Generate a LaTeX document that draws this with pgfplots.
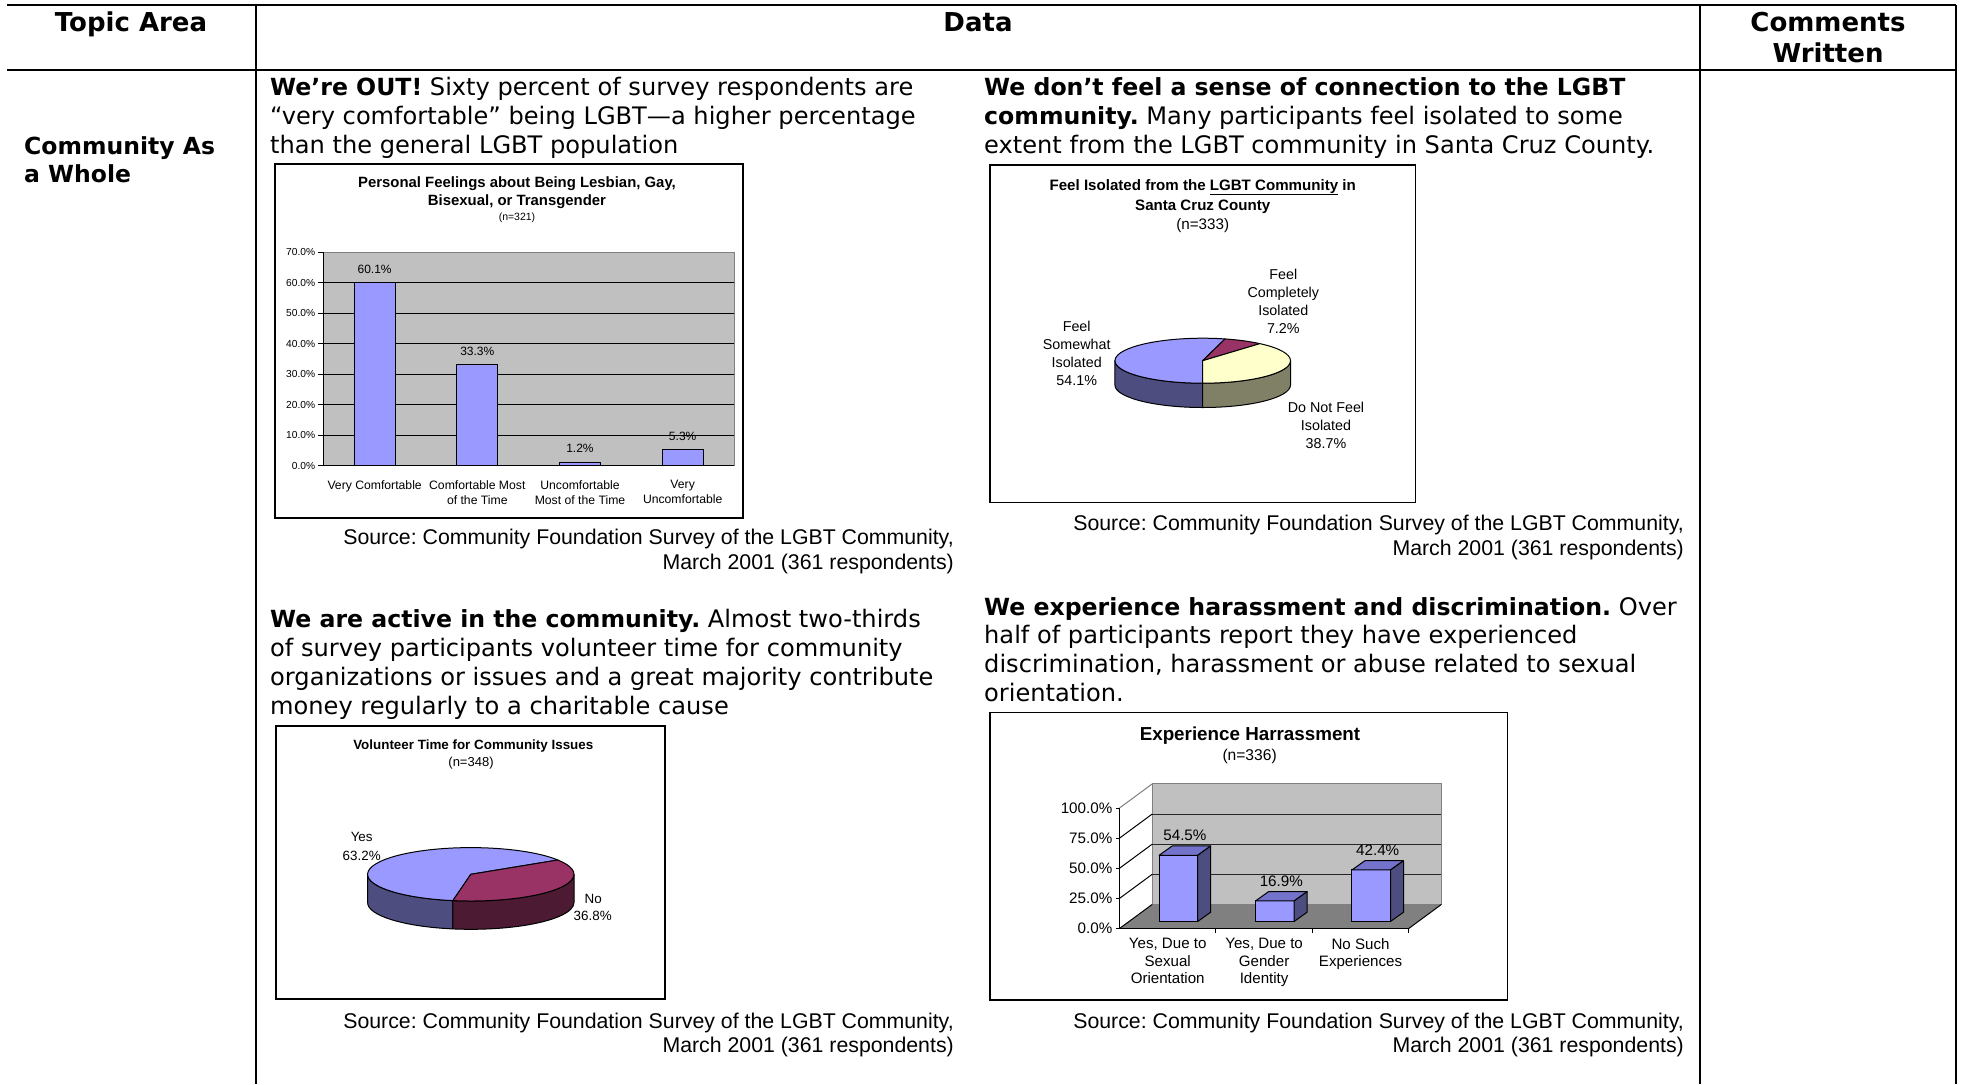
\documentclass[border=0pt]{standalone}
\usepackage{pgfplots}
\pgfplotsset{compat=1.18}
\usepackage{pgfplotstable}
\usepackage{fontspec}
\setmainfont{DejaVu Sans}
\newfontfamily\arial{Liberation Sans}
\pgfkeys{/pgf/number format/assume math mode=true}
\definecolor{barblue}{HTML}{9999FF}
\definecolor{darkblue}{HTML}{4D4D80}
\definecolor{topblue}{HTML}{7373CC}
\definecolor{maroon}{HTML}{993366}
\definecolor{darkmaroon}{HTML}{4D1A33}
\definecolor{lightyellow}{HTML}{FFFFCC}
\definecolor{darkolive}{HTML}{808066}
\definecolor{wallgray}{HTML}{C0C0C0}
\definecolor{floorgray}{HTML}{808080}
\newcommand\bodyfont{\fontsize{24.1}{28.7}\selectfont}
\newcommand\B[1]{{\fontsize{23.6}{28.7}\selectfont\bfseries #1}}
\newcommand\hfont{\bfseries\fontsize{23.5}{28.7}\selectfont}
\newcommand\headfont{\bfseries\fontsize{26}{29}\selectfont}
\newcommand\af[2]{\arial\fontsize{#1}{#2}\selectfont}
\newcommand\srcfont{\af{21.3}{25}}
\frenchspacing

\pgfplotstableread{
x v
0.5 60.1
1.5 33.3
2.5 1.2
3.5 5.3
}\feelingstable
\pgfplotstableread{
x v
0.5 54.5
1.5 16.9
2.5 42.4
}\harasstable

\pgfdeclareplotmark{bar3d}{%
  \pgfmathsetlengthmacro\barh{\barv*1.215pt}%
  \filldraw[fill=topblue, draw=black, line width=1pt, line join=round]
     (-19.3pt,0pt) -- (19.3pt,0pt) -- (32.3pt,9.3pt) -- (-6.3pt,9.3pt) -- cycle;
  \filldraw[fill=darkblue, draw=black, line width=1pt, line join=round]
     (19.3pt,0pt) -- (32.3pt,9.3pt) -- (32.3pt,{9.3pt-\barh}) -- (19.3pt,-\barh) -- cycle;
}

\begin{document}
\begin{tikzpicture}[x=1pt,y=1pt]
\useasboundingbox (0,0) rectangle (1961,-1084);
\clip (0,0) rectangle (1961,-1084);
\fill[white] (0,0) rectangle (1961,-1084);

\coordinate (AXbar) at (323.3,-465.7);
\coordinate (AXpieI) at (1202.7,-360.7);
\coordinate (AXpieV) at (470.8,-874.3);
\coordinate (AXhar) at (1119.5,-928.5);
\coordinate (AXharB) at (1130.2,-921.5);

% ---------- table ----------
\draw[line width=2.5pt] (7,-5) -- (1956,-5);
\draw[line width=2.5pt] (7,-70) -- (1956,-70);
\draw[line width=2.2pt] (256,-5) -- (256,-1084);
\draw[line width=2.2pt] (1700,-5) -- (1700,-1084);
\draw[line width=2.2pt] (1956,-5) -- (1956,-1084);

\node[anchor=base, inner sep=0] at (131,-31) {\headfont Topic Area};
\node[anchor=base, inner sep=0] at (978,-31) {\headfont Data};
\node[anchor=base, inner sep=0] at (1828,-31) {\headfont Comments};
\node[anchor=base, inner sep=0] at (1828,-62.5) {\headfont Written};
\node[anchor=base west, inner sep=0] at (24,-154) {\hfont Community As};
\node[anchor=base west, inner sep=0] at (24,-182) {\hfont a Whole};

% ---------- body text ----------
\node[anchor=base west, inner sep=0] at (270,-95.6) {\bodyfont\B{We’re OUT!} Sixty percent of survey respondents are};
\node[anchor=base west, inner sep=0] at (270,-124.3) {\bodyfont “very comfortable” being LGBT—a higher percentage};
\node[anchor=base west, inner sep=0] at (270,-153) {\bodyfont than the general LGBT population};

\node[anchor=base west, inner sep=0] at (984,-95.6) {\B{We don’t feel a sense of connection to the LGBT}};
\node[anchor=base west, inner sep=0] at (984,-124.3) {\bodyfont\B{community.} Many participants feel isolated to some};
\node[anchor=base west, inner sep=0] at (984,-153) {\bodyfont extent from the LGBT community in Santa Cruz County.};

\node[anchor=base west, inner sep=0] at (270,-627) {\bodyfont\B{We are active in the community.} Almost two-thirds};
\node[anchor=base west, inner sep=0] at (270,-656.2) {\bodyfont of survey participants volunteer time for community};
\node[anchor=base west, inner sep=0] at (270,-685.4) {\bodyfont organizations or issues and a great majority contribute};
\node[anchor=base west, inner sep=0] at (270,-714.6) {\bodyfont money regularly to a charitable cause};

\node[anchor=base west, inner sep=0] at (984,-615.2) {\bodyfont\B{We experience harassment and discrimination.} Over};
\node[anchor=base west, inner sep=0] at (984,-643.9) {\bodyfont half of participants report they have experienced};
\node[anchor=base west, inner sep=0] at (984,-672.6) {\bodyfont discrimination, harassment or abuse related to sexual};
\node[anchor=base west, inner sep=0] at (984,-701.3) {\bodyfont orientation.};

% ---------- sources ----------
\node[anchor=base east, inner sep=0] at (954,-544.3) {\srcfont Source: Community Foundation Survey of the LGBT Community,};
\node[anchor=base east, inner sep=0] at (954,-569.3) {\srcfont March 2001 (361 respondents)};
\node[anchor=base east, inner sep=0] at (1684,-530.3) {\srcfont Source: Community Foundation Survey of the LGBT Community,};
\node[anchor=base east, inner sep=0] at (1684,-555.3) {\srcfont March 2001 (361 respondents)};
\node[anchor=base east, inner sep=0] at (954,-1028) {\srcfont Source: Community Foundation Survey of the LGBT Community,};
\node[anchor=base east, inner sep=0] at (954,-1052.5) {\srcfont March 2001 (361 respondents)};
\node[anchor=base east, inner sep=0] at (1684,-1028) {\srcfont Source: Community Foundation Survey of the LGBT Community,};
\node[anchor=base east, inner sep=0] at (1684,-1052.5) {\srcfont March 2001 (361 respondents)};

% ---------- chart boxes ----------
\draw[line width=1.3pt] (275,-164) rectangle (743,-518);
\draw[line width=1.3pt] (990,-165) rectangle (1415.5,-502.5);
\draw[line width=1.3pt] (276,-726) rectangle (665,-999);
\draw[line width=1.3pt] (990,-712.5) rectangle (1507.5,-1000);

% ---------- chart 1: bar ----------
\node[anchor=base, inner sep=0] at (517,-187.3) {\af{14.9}{18}\bfseries Personal Feelings about Being Lesbian, Gay,};
\node[anchor=base, inner sep=0] at (517,-205) {\af{14.9}{18}\bfseries Bisexual, or Transgender};
\node[anchor=base, inner sep=0] at (517,-220) {\af{10.5}{12}(n=321)};

\begin{axis}[
  at={(AXbar)}, anchor=south west,
  scale only axis, width=410.7pt, height=213.4pt,
  xmin=0, xmax=4, ymin=0, ymax=70,
  axis background/.style={fill=wallgray},
  axis line style={draw=floorgray, line width=1pt},
  ytick={0,10,20,30,40,50,60,70},
  yticklabels={0.0\%,10.0\%,20.0\%,30.0\%,40.0\%,50.0\%,60.0\%,70.0\%},
  xtick={0.5,1.5,2.5,3.5},
  xticklabels={{Very Comfortable},{Comfortable Most\\of the Time},{Uncomfortable\\Most of the Time},{Very\\Uncomfortable}},
  ymajorgrids, grid style={black, line width=0.9pt},
  tick align=outside, major tick length=5pt, tick pos=left,
  ytick style={black, line width=0.9pt}, xtick style={draw=none},
  yticklabel style={font=\af{10.2}{12}, anchor=east, inner sep=0pt, xshift=-3pt},
  xticklabel style={font=\af{12.2}{15}, align=center, anchor=north, inner sep=0pt, yshift=-9.5pt},
  clip=false,
]
\addplot[ybar, bar width=41pt, fill=barblue, draw=black, line width=1pt,
  nodes near coords={\pgfmathprintnumber[fixed,fixed zerofill,precision=1]{\pgfplotspointmeta}\%},
  nodes near coords style={font=\af{12}{14}, anchor=south, inner sep=0pt, yshift=8.5pt, text=black}]
  table[x=x, y=v] {\feelingstable};
\draw[black, line width=1pt] (axis cs:0,0) -- (axis cs:4,0);
\draw[black, line width=1pt] (axis cs:0,0) -- (axis cs:0,70);
\end{axis}

% ---------- chart 2: isolated pie ----------
\def\isoSome{54.1}\def\isoComp{7.2}\def\isoNot{38.7}
\pgfmathsetmacro\isoA{270-3.6*\isoSome}
\pgfmathsetmacro\isoB{\isoA-3.6*\isoComp}
\pgfmathsetmacro\isoC{\isoB-3.6*\isoNot}
\def\ra{87.8}\def\rb{22.5}

\node[anchor=base, inner sep=0] at (1202.7,-190) {\af{15.1}{18}\bfseries Feel Isolated from the \underline{LGBT Community} in};
\node[anchor=base, inner sep=0] at (1202.7,-210) {\af{15.1}{18}\bfseries Santa Cruz County};
\node[anchor=base, inner sep=0] at (1202.7,-229.3) {\af{15.2}{18}(n=333)};

\begin{axis}[at={(AXpieI)}, anchor=center, scale only axis, width=240pt, height=120pt,
  xmin=-120, xmax=120, ymin=-60, ymax=60, hide axis, clip=false]
\filldraw[fill=darkblue, draw=black, line width=1pt, line join=round]
  (axis cs:-87.8,0) arc[start angle=180, end angle=270, x radius=87.8pt, y radius=22.5pt]
  -- (axis cs:0,-46.8) arc[start angle=270, end angle=180, x radius=87.8pt, y radius=22.5pt] -- cycle;
\filldraw[fill=darkolive, draw=black, line width=1pt, line join=round]
  (axis cs:0,-22.5) arc[start angle=270, end angle=360, x radius=87.8pt, y radius=22.5pt]
  -- (axis cs:87.8,-24.3) arc[start angle=360, end angle=270, x radius=87.8pt, y radius=22.5pt] -- cycle;
\filldraw[fill=barblue, draw=black, line width=1pt, line join=round]
  (axis cs:0,0) -- (axis cs:{\ra*cos(\isoA)},{\rb*sin(\isoA)}) arc[start angle=\isoA, end angle=270, x radius=87.8pt, y radius=22.5pt] -- cycle;
\filldraw[fill=maroon, draw=black, line width=1pt, line join=round]
  (axis cs:0,0) -- (axis cs:{\ra*cos(\isoB)},{\rb*sin(\isoB)}) arc[start angle=\isoB, end angle=\isoA, x radius=87.8pt, y radius=22.5pt] -- cycle;
\filldraw[fill=lightyellow, draw=black, line width=1pt, line join=round]
  (axis cs:0,0) -- (axis cs:{\ra*cos(\isoC)},{\rb*sin(\isoC)}) arc[start angle=\isoC, end angle=\isoB, x radius=87.8pt, y radius=22.5pt] -- cycle;
\end{axis}

\node[anchor=base, inner sep=0] at (1076.7,-331) {\af{14.3}{18}Feel};
\node[anchor=base, inner sep=0] at (1076.7,-349) {\af{14.3}{18}Somewhat};
\node[anchor=base, inner sep=0] at (1076.7,-367) {\af{14.3}{18}Isolated};
\node[anchor=base, inner sep=0] at (1076.7,-385) {\af{14.3}{18}54.1\%};
\node[anchor=base, inner sep=0] at (1283.3,-279) {\af{14.3}{18}Feel};
\node[anchor=base, inner sep=0] at (1283.3,-297) {\af{14.3}{18}Completely};
\node[anchor=base, inner sep=0] at (1283.3,-315) {\af{14.3}{18}Isolated};
\node[anchor=base, inner sep=0] at (1283.3,-333) {\af{14.3}{18}7.2\%};
\node[anchor=base, inner sep=0] at (1326,-412) {\af{14.3}{18}Do Not Feel};
\node[anchor=base, inner sep=0] at (1326,-430) {\af{14.3}{18}Isolated};
\node[anchor=base, inner sep=0] at (1326,-448) {\af{14.3}{18}38.7\%};

% ---------- chart 3: volunteer pie ----------
\def\volYes{63.2}\def\volNo{36.8}
\pgfmathsetmacro\volA{260-3.6*\volYes}
\pgfmathsetmacro\volB{\volA-3.6*\volNo}
\def\va{103.2}\def\vb{26.7}

\node[anchor=base, inner sep=0] at (473.3,-749) {\af{13.4}{16}\bfseries Volunteer Time for Community Issues};
\node[anchor=base, inner sep=0] at (471,-766) {\af{13}{16}(n=348)};

\begin{axis}[at={(AXpieV)}, anchor=center, scale only axis, width=240pt, height=120pt,
  xmin=-120, xmax=120, ymin=-60, ymax=60, hide axis, clip=false]
\filldraw[fill=darkblue, draw=black, line width=1pt, line join=round]
  (axis cs:-103.2,0) arc[start angle=180, end angle=260, x radius=103.2pt, y radius=26.7pt]
  -- (axis cs:{\va*cos(260)},{\vb*sin(260)-28.3}) arc[start angle=260, end angle=180, x radius=103.2pt, y radius=26.7pt] -- cycle;
\filldraw[fill=darkmaroon, draw=black, line width=1pt, line join=round]
  (axis cs:{\va*cos(260)},{\vb*sin(260)}) arc[start angle=260, end angle=360, x radius=103.2pt, y radius=26.7pt]
  -- (axis cs:103.2,-28.3) arc[start angle=360, end angle=260, x radius=103.2pt, y radius=26.7pt] -- cycle;
\filldraw[fill=barblue, draw=black, line width=1pt, line join=round]
  (axis cs:0,0) -- (axis cs:{\va*cos(\volA)},{\vb*sin(\volA)}) arc[start angle=\volA, end angle=260, x radius=103.2pt, y radius=26.7pt] -- cycle;
\filldraw[fill=maroon, draw=black, line width=1pt, line join=round]
  (axis cs:0,0) -- (axis cs:{\va*cos(\volB)},{\vb*sin(\volB)}) arc[start angle=\volB, end angle=\volA, x radius=103.2pt, y radius=26.7pt] -- cycle;
\end{axis}

\node[anchor=base, inner sep=0] at (361.7,-841.7) {\af{13.4}{18}Yes};
\node[anchor=base, inner sep=0] at (361.7,-860) {\af{13.4}{18}63.2\%};
\node[anchor=base, inner sep=0] at (593.3,-903.3) {\af{13.4}{18}No};
\node[anchor=base, inner sep=0] at (592.7,-920) {\af{13.4}{18}36.8\%};

% ---------- chart 4: harassment 3D bars ----------
\node[anchor=base, inner sep=0] at (1250,-740.6) {\af{18.8}{22}\bfseries Experience Harrassment};
\node[anchor=base, inner sep=0] at (1249.6,-760) {\af{15.6}{18}(n=336)};

\def\dX{32.7pt}\def\dY{24.1pt}
\begin{axis}[
  at={(AXhar)}, anchor=south west,
  scale only axis, width=289.2pt, height=120.5pt,
  xmin=0, xmax=3, ymin=0, ymax=100, clip=false,
  axis line style={draw=none},
  ytick={0,25,50,75,100},
  yticklabels={0.0\%,25.0\%,50.0\%,75.0\%,100.0\%},
  xtick={0.5,1.5,2.5},
  xticklabels={{Yes, Due to\\Sexual\\Orientation},{Yes, Due to\\Gender\\Identity},{No Such\\Experiences}},
  tick align=outside, major tick length=4pt, tick pos=left,
  ytick style={black, line width=0.9pt}, xtick style={draw=none},
  yticklabel style={font=\af{15.2}{18}, anchor=east, inner sep=0pt, xshift=-3pt},
  xticklabel style={font=\af{15.1}{17.5}, align=center, anchor=north, inner sep=0pt, yshift=-5.5pt},
]
\fill[floorgray] (axis cs:0,0) -- (axis cs:3,0) -- ([shift={(\dX,\dY)}]axis cs:3,0) -- ([shift={(\dX,\dY)}]axis cs:0,0) -- cycle;
\filldraw[fill=wallgray, draw=floorgray, line width=1pt] ([shift={(\dX,\dY)}]axis cs:0,0) rectangle ([shift={(\dX,\dY)}]axis cs:3,100);
\draw[black!85, line width=1pt] ([shift={(\dX,\dY)}]axis cs:0,25) -- ([shift={(\dX,\dY)}]axis cs:3,25);
\draw[black!85, line width=1pt] ([shift={(\dX,\dY)}]axis cs:0,50) -- ([shift={(\dX,\dY)}]axis cs:3,50);
\draw[black!85, line width=1pt] ([shift={(\dX,\dY)}]axis cs:0,75) -- ([shift={(\dX,\dY)}]axis cs:3,75);
\draw[black, line width=1pt] (axis cs:0,25) -- ([shift={(\dX,\dY)}]axis cs:0,25);
\draw[black, line width=1pt] (axis cs:0,50) -- ([shift={(\dX,\dY)}]axis cs:0,50);
\draw[black, line width=1pt] (axis cs:0,75) -- ([shift={(\dX,\dY)}]axis cs:0,75);
\draw[floorgray, line width=1pt] (axis cs:0,100) -- ([shift={(\dX,\dY)}]axis cs:0,100);
\draw[black, line width=1pt] (axis cs:0,0) -- ([shift={(\dX,\dY)}]axis cs:0,0);
\draw[black, line width=1pt] (axis cs:3,0) -- ([shift={(\dX,\dY)}]axis cs:3,0);
\draw[black, line width=1.2pt] (axis cs:0,0) -- (axis cs:3,0);
\draw[black, line width=1.2pt] (axis cs:0,0) -- (axis cs:0,100);
\draw[black, line width=1pt] (axis cs:1,0) -- ([yshift=-4pt]axis cs:1,0);
\draw[black, line width=1pt] (axis cs:2,0) -- ([yshift=-4pt]axis cs:2,0);
\draw[black, line width=1pt] (axis cs:3,0) -- ([yshift=-4pt]axis cs:3,0);
\end{axis}

\begin{axis}[at={(AXharB)}, anchor=south west, scale only axis, width=289.2pt, height=121.5pt,
  xmin=0, xmax=3, ymin=0, ymax=100, hide axis, clip=false]
\addplot[ybar, bar width=38.6pt, fill=barblue, draw=black, line width=1pt,
  nodes near coords={\pgfmathprintnumber[fixed,fixed zerofill,precision=1]{\pgfplotspointmeta}\%},
  nodes near coords style={font=\af{15.2}{18}, anchor=base, inner sep=0pt, xshift=6.5pt, yshift=14.8pt, text=black}]
  table[x=x, y=v] {\harasstable};
\addplot[only marks, mark=bar3d, visualization depends on={\thisrow{v} \as \barv}]
  table[x=x, y=v] {\harasstable};
\end{axis}

\end{tikzpicture}
\end{document}
